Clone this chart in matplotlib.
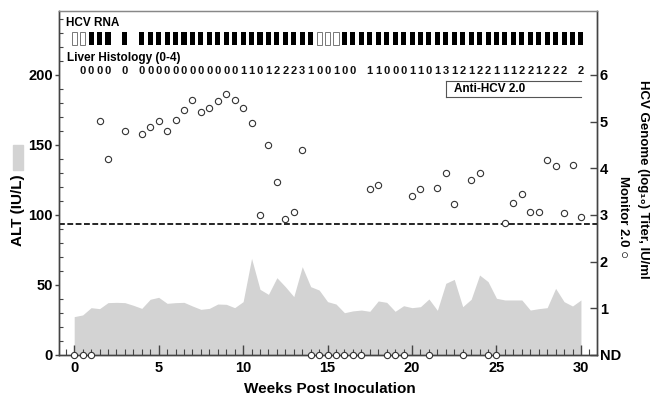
"""
plot.py

ALT activity, HCV titer, RNA status and liver histology
over the weeks after inoculation.
"""

import numpy as np
import matplotlib
matplotlib.use("Agg")
import matplotlib.pyplot as plt
from matplotlib.patches import Rectangle
from matplotlib.ticker import MultipleLocator


# ALT (IU/L) every half week, weeks 0..30
alt_weeks = np.arange(0, 30.5, 0.5)
alt_values = [27.4, 28.6, 33.8, 33.1, 37.4, 37.6, 37.4, 35.5, 33.3, 39.8,
              41.2, 36.9, 37.4, 37.6, 35.0, 32.6, 33.3, 36.4, 36.2, 33.8,
              38.1, 69.0, 46.9, 43.3, 55.2, 48.8, 41.7, 63.1, 48.8, 46.4,
              38.1, 36.4, 30.2, 31.5, 32.1, 31.2, 38.6, 37.6, 31.2, 35.2,
              33.8, 34.5, 40.0, 31.9, 51.2, 54.0, 34.5, 39.8, 57.1, 52.4,
              40.5, 39.3, 39.3, 39.3, 32.1, 33.1, 33.8, 47.6, 38.1, 35.0,
              39.3]

# HCV genome titer (log10 IU/ml), Monitor 2.0
titer_weeks = [1.5, 2, 3, 4, 4.5, 5, 5.5, 6, 6.5, 7, 7.5, 8, 8.5, 9, 9.5,
               10, 10.5, 11, 11.5, 12, 12.5, 13, 13.5, 17.5, 18, 20, 20.5,
               21.5, 22, 22.5, 23.5, 24, 25.5, 26, 26.5, 27, 27.5, 28, 28.5,
               29, 29.5, 30]
titer_values = [5.01, 4.20, 4.80, 4.74, 4.88, 5.01, 4.80, 5.04, 5.25, 5.47,
                5.21, 5.30, 5.45, 5.59, 5.46, 5.29, 4.97, 3.01, 4.49, 3.71,
                2.92, 3.06, 4.39, 3.56, 3.64, 3.41, 3.55, 3.58, 3.89, 3.24,
                3.74, 3.91, 2.82, 3.26, 3.45, 3.06, 3.06, 4.18, 4.06, 3.04,
                4.07, 2.95]

# samples where the titer was not detected
nd_weeks = [0, 0.5, 1, 14, 14.5, 15, 15.5, 16, 16.5, 17, 18.5, 19, 19.5,
            21, 23, 24.5, 25]

detection_limit = 2.8  # log10 IU/ml

# one character per half week from week 0: + positive, - negative, blank none
rna_row = "--+++ + " + "+++++++++++++++++++++" + "---" + "+++++++++++++++++++++++++++++"
histology_row = " 0000 0 00000000000011012223100100 110001101312122111221222 2"

anti_hcv_start, anti_hcv_end = 22, 30

left_ticks = [0, 50, 100, 150, 200]
right_ticks = [0, 1, 2, 3, 4, 5, 6]
right_tick_labels = ["ND", "1", "2", "3", "4", "5", "6"]


plt.rcParams["font.family"] = ["Liberation Sans", "DejaVu Sans"]
plt.rcParams["font.weight"] = "bold"

spine_color = "#444444"
fill_color = "#d3d3d3"

fig = plt.figure(figsize=(6.52, 4.0), dpi=100)
ax = fig.add_axes([59 / 652, 45 / 400, 538 / 652, 344 / 400])

top = 245.7
ax.set_xlim(-0.9, 30.95)
ax.set_ylim(0, top)

# ALT as a grey area
ax.fill_between(alt_weeks, alt_values, 0, color=fill_color, lw=0, zorder=1)

# HCV RNA boxes
slot_weeks = np.arange(len(rna_row)) * 0.5
pos = [w for w, c in zip(slot_weeks, rna_row) if c == "+"]
neg = [w for w, c in zip(slot_weeks, rna_row) if c == "-"]
ax.bar(pos, 9.3, bottom=221.5, width=0.3, color="black", zorder=3)
ax.bar(neg, 9.3, bottom=221.5, width=0.3, facecolor="white",
       edgecolor="#777777", linewidth=0.7, zorder=3)

# liver histology scores
for w, c in zip(np.arange(len(histology_row)) * 0.5, histology_row):
    if c != " ":
        ax.text(w, 202.5, c, ha="center", va="center", fontsize=8,
                color="#111111")

# anti-HCV bracket
ax.plot([anti_hcv_start, anti_hcv_end], [195.7, 195.7], color="#555555", lw=0.8)
ax.plot([anti_hcv_start, anti_hcv_end], [184.5, 184.5], color="#555555", lw=0.8)
ax.plot([anti_hcv_start, anti_hcv_start], [184.5, 195.7], color="#555555", lw=0.8)
ax.text(anti_hcv_start + 0.5, 190, "Anti-HCV 2.0", ha="left", va="center",
        fontsize=8.5)

ax.set_xticks(range(0, 31, 5))
ax.xaxis.set_minor_locator(MultipleLocator(0.5))
ax.set_yticks(left_ticks)
ax.yaxis.set_minor_locator(MultipleLocator(10))
ax.tick_params(axis="x", which="major", direction="in", length=7, width=1,
               pad=4, labelsize=10.5, color=spine_color)
ax.tick_params(axis="x", which="minor", direction="in", length=4, width=0.8,
               color=spine_color)
ax.tick_params(axis="y", which="major", direction="out", length=3, width=1,
               pad=1.5, labelsize=10.5, color=spine_color)
ax.tick_params(axis="y", which="minor", direction="in", length=3, width=0.8,
               color=spine_color)

# titer axis on the right
ax2 = ax.twinx()
ax2.set_ylim(0, top * 6 / 200)
ax2.axhline(detection_limit, ls=(0, (3.5, 1.5)), color="black", lw=1.2, zorder=2)
ax2.plot(titer_weeks, titer_values, "o", mfc="white", mec="#333333", ms=4.5,
         mew=0.8, zorder=4)
ax2.plot(nd_weeks, np.zeros(len(nd_weeks)), "o", mfc="white", mec="#333333",
         ms=4.5, mew=0.8, zorder=6, clip_on=False)
ax2.set_yticks(right_ticks)
ax2.set_yticklabels(right_tick_labels)
ax2.tick_params(axis="y", direction="in", length=5, width=1, pad=2,
                labelsize=10.5, color=spine_color)

for a in (ax, ax2):
    for side in ("left", "right", "bottom"):
        a.spines[side].set_color(spine_color)
        a.spines[side].set_linewidth(1)
    a.spines["top"].set_color("#888888")
    a.spines["top"].set_linewidth(0.9)

# row labels
fig.text(66 / 652, 1 - 23.5 / 400, "HCV RNA", ha="left", va="center", fontsize=8.5)
fig.text(67 / 652, 1 - 58 / 400, "Liver Histology (0-4)", ha="left",
         va="center", fontsize=8.5)

# axis titles
fig.text(329.5 / 652, 1 - 389 / 400, "Weeks Post Inoculation", ha="center",
         va="center", fontsize=11)
fig.text(18 / 652, 1 - 210 / 400, "ALT (IU/L)", rotation=90, ha="center",
         va="center", fontsize=11)
fig.patches.append(Rectangle((13 / 652, 1 - 170 / 400), 10 / 652, 25 / 400,
                             transform=fig.transFigure, color=fill_color))
fig.text(643 / 652, 1 - 179 / 400, "HCV Genome (log\u2081\u2080) Titer, IU/ml",
         rotation=270, ha="center", va="center", fontsize=9.5)
fig.text(623 / 652, 1 - 217 / 400, "Monitor 2.0 \u25cb", rotation=270,
         ha="center", va="center", fontsize=9.5)

fig.savefig("out.png", dpi=100)
